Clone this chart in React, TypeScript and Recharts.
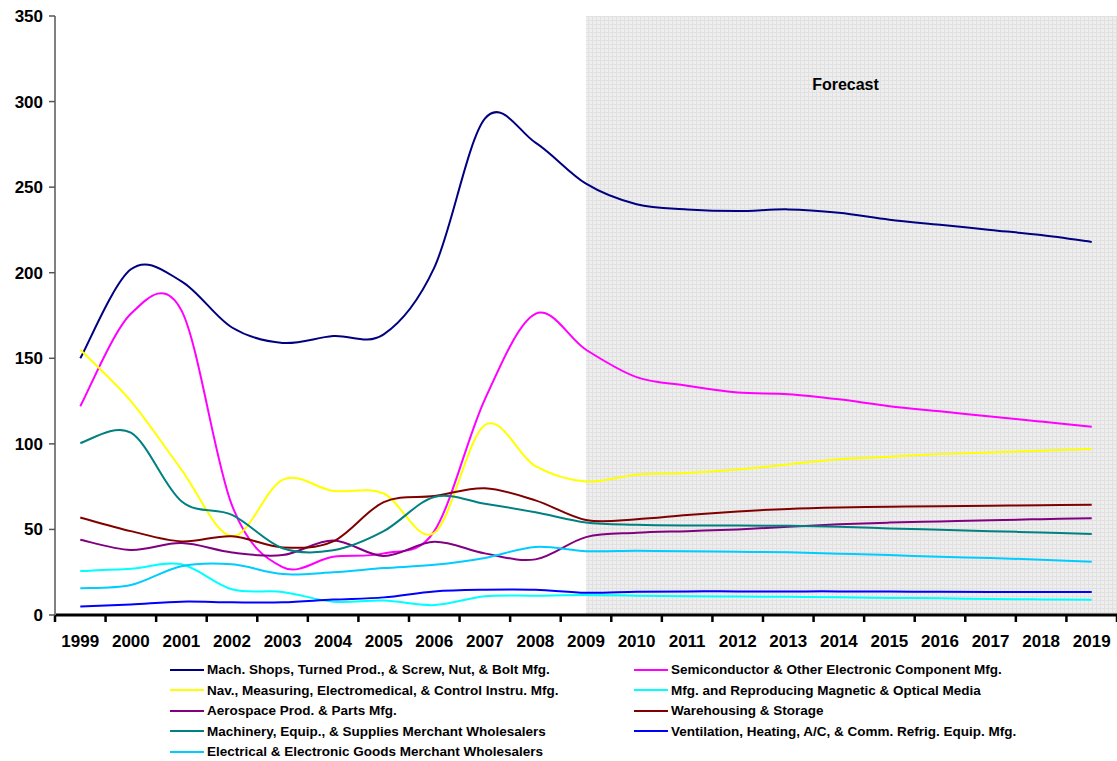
import React from "react";
import { LineChart, Line, XAxis, YAxis, ReferenceArea } from "recharts";

const years = [
  "1999", "2000", "2001", "2002", "2003", "2004", "2005", "2006", "2007", "2008", "2009",
  "2010", "2011", "2012", "2013", "2014", "2015", "2016", "2017", "2018", "2019",
];

const machShops = [150, 202, 195, 168, 159, 163, 164, 203, 290, 276, 252, 240, 237, 236, 237, 235, 231, 228, 225, 222, 218];
const semiconductor = [122, 176, 178, 64, 28, 34, 36, 49, 126, 176, 155, 139, 134, 130, 129, 126, 122, 119, 116, 113, 110];
const navMeasuring = [155, 125, 85, 46, 79, 72.5, 71, 48, 111, 87, 78, 82, 83, 85, 88, 91, 92.5, 94, 95, 96, 97];
const magneticMedia = [25.7, 27, 29.6, 15, 13.5, 7.8, 8.4, 5.8, 10.9, 11.3, 11.7, 11.3, 11, 10.8, 10.6, 10.4, 10, 9.8, 9.3, 9.1, 8.9];
const aerospace = [44, 38, 42, 36.5, 35, 43.5, 34.5, 42.8, 36, 32.5, 45.5, 48, 49, 50, 51.5, 53, 54, 54.7, 55.4, 56, 56.6];
const warehousing = [57, 49, 43, 46, 39.5, 43, 66, 69.5, 74, 67, 55.5, 56, 58.5, 60.5, 62, 62.8, 63.2, 63.6, 63.8, 64.2, 64.4];
const machineryWholesale = [100.5, 106.5, 66.5, 58.5, 39, 37.8, 49, 69, 65, 60, 54, 52.7, 52.3, 52.3, 52.1, 51.5, 50.6, 49.8, 49, 48.2, 47.3];
const ventilation = [5, 6.2, 7.8, 7.4, 7.4, 9, 10.3, 13.8, 14.8, 14.8, 13, 13.6, 13.8, 13.8, 13.8, 13.8, 13.7, 13.6, 13.5, 13.4, 13.4];
const electricalWholesale = [15.6, 17.5, 28.5, 29.6, 23.9, 25, 27.4, 29.3, 33.3, 39.8, 37.3, 37.5, 37.3, 36.9, 36.6, 35.8, 35, 34, 33.3, 32.3, 31.1];

const yTicks = [0, 50, 100, 150, 200, 250, 300, 350];
const forecastStart = 10; // index of 2009

const series = [
  { key: "mach", name: "Mach. Shops, Turned Prod., & Screw, Nut, & Bolt Mfg.", color: "#000080", values: machShops },
  { key: "semi", name: "Semiconductor & Other Electronic Component Mfg.", color: "#FF00FF", values: semiconductor },
  { key: "nav", name: "Nav., Measuring, Electromedical, & Control Instru. Mfg.", color: "#FFFF00", values: navMeasuring },
  { key: "mag", name: "Mfg. and Reproducing Magnetic & Optical Media", color: "#00FFFF", values: magneticMedia },
  { key: "aero", name: "Aerospace Prod. & Parts Mfg.", color: "#800080", values: aerospace },
  { key: "ware", name: "Warehousing & Storage", color: "#800000", values: warehousing },
  { key: "mwhl", name: "Machinery, Equip., & Supplies Merchant Wholesalers", color: "#008080", values: machineryWholesale },
  { key: "vent", name: "Ventilation, Heating, A/C, & Comm. Refrig. Equip. Mfg.", color: "#0000FF", values: ventilation },
  { key: "elec", name: "Electrical & Electronic Goods Merchant Wholesalers", color: "#00CCFF", values: electricalWholesale },
];

const data = years.map((year, i) => {
  const row: Record<string, number | string> = { i, year };
  series.forEach((s) => (row[s.key] = s.values[i]));
  return row;
});

// boundaries between categories, Excel style
const xTicks = years.map((_, i) => i - 0.5).concat(years.length - 0.5);

const FONT = "'Liberation Sans', Arial, sans-serif";
const W = 1117;
const PLOT_LEFT = 55;
const BAND = (W - PLOT_LEFT) / years.length;

// Excel-like smoothed line (Catmull-Rom through every point)
function excelCurve(context: any) {
  let pts: number[][] = [];
  return {
    areaStart() {},
    areaEnd() {},
    lineStart() {
      pts = [];
    },
    point(x: number, y: number) {
      pts.push([+x, +y]);
    },
    lineEnd() {
      const n = pts.length;
      if (!n) return;
      context.moveTo(pts[0][0], pts[0][1]);
      for (let k = 0; k < n - 1; k++) {
        const p0 = pts[Math.max(k - 1, 0)];
        const p1 = pts[k];
        const p2 = pts[k + 1];
        const p3 = pts[Math.min(k + 2, n - 1)];
        context.bezierCurveTo(
          p1[0] + (p2[0] - p0[0]) / 6,
          p1[1] + (p2[1] - p0[1]) / 6,
          p2[0] - (p3[0] - p1[0]) / 6,
          p2[1] - (p3[1] - p1[1]) / 6,
          p2[0],
          p2[1]
        );
      }
    },
  };
}

const XTick = (props: any) => {
  const { x, y, payload } = props;
  const idx = payload.value + 0.5;
  if (idx >= years.length) return null;
  return (
    <text x={x + BAND / 2} y={y} dy="0.71em" textAnchor="middle" fontFamily={FONT} fontWeight="bold" fontSize={17} fill="#000">
      {years[idx]}
    </text>
  );
};

const ForecastLabel = (props: any) => {
  const { viewBox } = props;
  return (
    <text x={viewBox.x + viewBox.width / 2 - 6} y={viewBox.y + 74} textAnchor="middle" fontFamily={FONT} fontWeight="bold" fontSize={16} fill="#000">
      Forecast
    </text>
  );
};

export default function App() {
  return (
    <div style={{ position: "absolute", left: 0, top: 0, width: W, height: 761, background: "#fff", fontFamily: FONT }}>
      <LineChart width={W} height={660} data={data} margin={{ top: 16, right: 0, left: 0, bottom: 15 }}>
        <defs>
          <pattern id="forecastFill" width="4" height="4" patternUnits="userSpaceOnUse">
            <rect width="4" height="4" fill="#eeeeee" />
            <rect width="4" height="1" fill="#e1e1e1" />
            <rect width="1" height="4" fill="#e1e1e1" />
          </pattern>
        </defs>
        <ReferenceArea
          x1={forecastStart}
          x2={years.length - 0.5}
          y1={0}
          y2={350}
          fill="url(#forecastFill)"
          fillOpacity={1}
          stroke="none"
          label={<ForecastLabel />}
        />
        <XAxis
          type="number"
          dataKey="i"
          domain={[-0.5, years.length - 0.5]}
          ticks={xTicks}
          interval={0}
          height={30}
          tickSize={7}
          tickMargin={13}
          tick={<XTick />}
          axisLine={{ stroke: "#000", strokeWidth: 3 }}
          tickLine={{ stroke: "#000", strokeWidth: 2.5 }}
        />
        <YAxis
          type="number"
          domain={[0, 350]}
          ticks={yTicks}
          interval={0}
          width={PLOT_LEFT}
          tickSize={6}
          tickMargin={6}
          tick={{ fill: "#000", fontSize: 17, fontWeight: "bold", fontFamily: FONT }}
          axisLine={{ stroke: "#808080", strokeWidth: 2 }}
          tickLine={{ stroke: "#555", strokeWidth: 1.5 }}
        />
        {series.map((s) => (
          <Line
            key={s.key}
            dataKey={s.key}
            name={s.name}
            stroke={s.color}
            strokeWidth={2}
            dot={false}
            activeDot={false}
            type={excelCurve as any}
            isAnimationActive={false}
          />
        ))}
      </LineChart>

      {series.map((s, i) => {
        const row = Math.floor(i / 2);
        const col = i % 2;
        const left = col ? 634 : 170;
        const top = 669.5 + row * 20.5;
        return (
          <div key={s.key} style={{ position: "absolute", left, top: top - 9, height: 18, display: "flex", alignItems: "center", whiteSpace: "nowrap" }}>
            <svg width={34} height={18} style={{ display: "block" }}>
              <line x1={0} y1={9} x2={34} y2={9} stroke={s.color} strokeWidth={2} />
            </svg>
            <span style={{ marginLeft: 3, fontSize: 13.5, fontWeight: "bold", color: "#000" }}>{s.name}</span>
          </div>
        );
      })}
    </div>
  );
}
